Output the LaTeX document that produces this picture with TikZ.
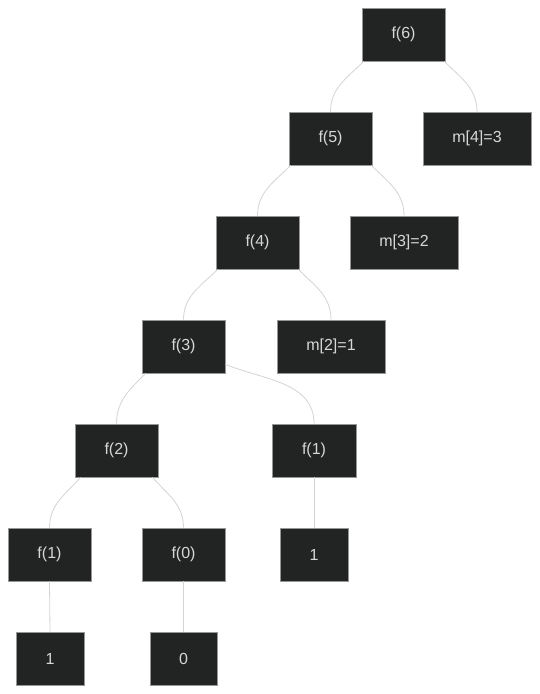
\documentclass[tikz,border=0pt]{standalone}
\usepackage{fontspec}
\setmainfont{Liberation Sans}
\usetikzlibrary{calc}
\definecolor{boxfill}{RGB}{34,36,35}
\definecolor{boxborder}{RGB}{150,150,150}
\definecolor{boxtext}{RGB}{215,215,215}
\definecolor{edgecol}{RGB}{212,212,212}
\begin{document}
\begin{tikzpicture}[x=1pt,y=1pt,
  box/.style={draw=boxborder, fill=boxfill, text=boxtext, line width=0.8pt,
    minimum height=53pt, minimum width=83pt, inner sep=0pt,
    font=\fontsize{16}{19}\selectfont},
  wbox/.style={box, minimum width=108pt},
  nbox/.style={box, minimum width=68pt},
  edge/.style={draw=edgecol, line width=0.8pt}]
\fill[white] (0,0) rectangle (540,-694);
\useasboundingbox (0,0) rectangle (540,-694);
\node[box]  (f6)  at (403.5,-34.5) {f(6)};
\node[box]  (f5)  at (330.5,-138.5) {f(5)};
\node[wbox] (m4)  at (477,-138.5) {m[4]=3};
\node[box]  (f4)  at (257.5,-242.5) {f(4)};
\node[wbox] (m3)  at (404,-242.5) {m[3]=2};
\node[box]  (f3)  at (183.5,-346.5) {f(3)};
\node[wbox] (m2)  at (331,-346.5) {m[2]=1};
\node[box]  (f2)  at (116.5,-450.5) {f(2)};
\node[box, minimum width=84pt] (f1r) at (314,-450.5) {f(1)};
\node[box]  (f1l) at (49.5,-554.5) {f(1)};
\node[box]  (f0)  at (183.5,-554.5) {f(0)};
\node[nbox] (o1r) at (314,-554.5) {1};
\node[nbox] (o1l) at (50,-658.5) {1};
\node[nbox, minimum width=67pt] (z0) at (183.5,-658.5) {0};
\draw[edge] ($(f6.south west)+(2,0)$) to[out=225,in=90] (f5.north);
\draw[edge] ($(f6.south east)+(-1,0)$) to[out=-45,in=90] (m4.north);
\draw[edge] ($(f5.south west)+(2,0)$) to[out=225,in=90] (f4.north);
\draw[edge] ($(f5.south east)+(-1,0)$) to[out=-45,in=90] (m3.north);
\draw[edge] ($(f4.south west)+(2,0)$) to[out=225,in=90] (f3.north);
\draw[edge] ($(f4.south east)+(-1,0)$) to[out=-45,in=90] (m2.north);
\draw[edge] ($(f3.south west)+(4,0)$) to[out=225,in=90] (f2.north);
\draw[edge] ($(f3.south east)+(0,9)$) to[out=-22,in=90] (f1r.north);
\draw[edge] ($(f2.south west)+(6,0)$) to[out=228,in=90] (f1l.north);
\draw[edge] ($(f2.south east)+(-6,0)$) to[out=-48,in=90] (f0.north);
\draw[edge] (f1r.south) -- (o1r.north);
\draw[edge] (f1l.south) -- (o1l.north);
\draw[edge] (f0.south) -- (z0.north);
\end{tikzpicture}
\end{document}
